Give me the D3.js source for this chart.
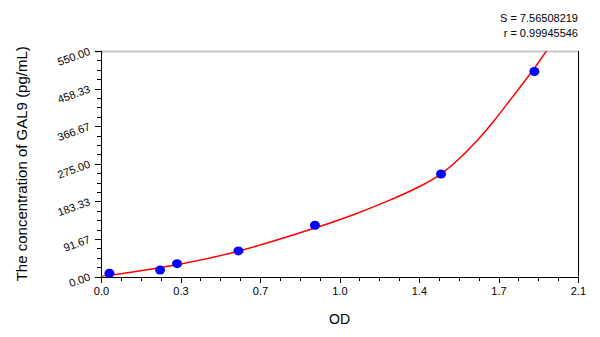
<!DOCTYPE html>
<html>
<head>
<meta charset="utf-8">
<script src="https://cdn.jsdelivr.net/npm/d3@7"></script>
<style>
  body { margin: 0; background: #fff; }
  svg { display: block; font-family: "Liberation Sans", Arial, sans-serif; }
  .axis path, .axis line { stroke: #000; shape-rendering: crispEdges; }
  .axis text { fill: #000; font-size: 11px; }
</style>
</head>
<body>
<svg width="600" height="337"></svg>
<script>
// standard points (OD vs concentration)
var odValues = [0.037, 0.26, 0.335, 0.605, 0.942, 1.497, 1.908];
var concValues = [7.8, 15.6, 31.25, 62.5, 125, 250, 500];

// fitted curve
var fitOd = [0, 0.2, 0.335, 0.6, 0.964, 1.111, 1.258, 1.405, 1.497, 1.581, 1.654, 1.727, 1.801, 1.875, 1.933, 1.963];
var fitConc = [0, 15.8, 28, 58, 121.5, 150, 182.4, 219, 248, 288.3, 330, 376, 430.5, 483.4, 527, 552];

var xTicks = [0, 0.35, 0.7, 1.05, 1.4, 1.75, 2.1];
var xTickLabels = ["0.0", "0.3", "0.7", "1.0", "1.4", "1.7", "2.1"];
var yTicks = [0, 91.667, 183.333, 275, 366.667, 458.333, 550];
var yTickLabels = ["0.00", "91.67", "183.33", "275.00", "366.67", "458.33", "550.00"];

var statLines = ["S = 7.56508219", "r = 0.99945546"];

var svg = d3.select("svg");
var margin = { top: 51, right: 22, bottom: 60.5, left: 101 };
var width = +svg.attr("width") - margin.left - margin.right;
var height = +svg.attr("height") - margin.top - margin.bottom;

var g = svg.append("g")
    .attr("transform", "translate(" + margin.left + "," + margin.top + ")");

var x = d3.scaleLinear().domain([0, 2.1]).range([0, width]);
var y = d3.scaleLinear().domain([0, 550]).range([height, 0]);

// frame: grey top, black right
g.append("line")
    .attr("x1", -6).attr("x2", width).attr("y1", 0.5).attr("y2", 0.5)
    .attr("stroke", "#c8c8c8").attr("stroke-width", 2);
g.append("line")
    .attr("x1", width + 0.5).attr("x2", width + 0.5).attr("y1", 0).attr("y2", height)
    .attr("stroke", "#000");

// minor ticks
g.append("g")
    .attr("class", "axis")
    .attr("transform", "translate(0," + height + ")")
    .call(d3.axisBottom(x).tickValues(d3.range(0, 2.1001, 0.0875)).tickSize(4).tickFormat(""))
    .select(".domain").remove();
g.append("g")
    .attr("class", "axis")
    .call(d3.axisLeft(y).tickValues(d3.range(0, 550.01, 550 / 24)).tickSize(4).tickFormat(""))
    .select(".domain").remove();

// major ticks
g.append("g")
    .attr("class", "axis axis--x")
    .attr("transform", "translate(0," + height + ")")
    .call(d3.axisBottom(x).tickValues(xTicks).tickSizeOuter(0).tickSize(6).tickPadding(5)
        .tickFormat(function (d, i) { return xTickLabels[i]; }));

var yAxis = g.append("g")
    .attr("class", "axis axis--y")
    .call(d3.axisLeft(y).tickValues(yTicks).tickSizeOuter(0).tickSize(6)
        .tickFormat(function (d, i) { return yTickLabels[i]; }));
yAxis.selectAll(".tick text")
    .attr("x", 0)
    .attr("dy", 0)
    .attr("transform", "translate(-10,3) rotate(-20)");

// fitted curve
g.append("clipPath").attr("id", "clip")
    .append("rect").attr("width", width).attr("height", height);

var line = d3.line()
    .x(function (d, i) { return x(fitOd[i]); })
    .y(function (d, i) { return y(fitConc[i]); })
    .curve(d3.curveBasis);

g.append("path")
    .datum(fitOd)
    .attr("clip-path", "url(#clip)")
    .attr("fill", "none")
    .attr("stroke", "#ff0000")
    .attr("stroke-width", 1.5)
    .attr("d", line);

// points
g.selectAll(".dot")
    .data(odValues)
    .enter().append("ellipse")
    .attr("class", "dot")
    .attr("cx", function (d) { return x(d); })
    .attr("cy", function (d, i) { return y(concValues[i]); })
    .attr("rx", 5)
    .attr("ry", 4.5)
    .attr("fill", "#0000ff");

// titles
svg.append("text")
    .attr("x", margin.left + width / 2)
    .attr("y", 324)
    .attr("text-anchor", "middle")
    .style("font-size", "14px")
    .text("OD");

svg.append("text")
    .attr("transform", "translate(27," + (margin.top + height / 2) + ") rotate(-90)")
    .attr("text-anchor", "middle")
    .style("font-size", "15px")
    .text("The concentration of GAL9 (pg/mL)");

svg.selectAll(".stat")
    .data(statLines)
    .enter().append("text")
    .attr("class", "stat")
    .attr("x", 578)
    .attr("y", function (d, i) { return 22 + i * 15; })
    .attr("text-anchor", "end")
    .style("font-size", "11px")
    .text(function (d) { return d; });
</script>
</body>
</html>
